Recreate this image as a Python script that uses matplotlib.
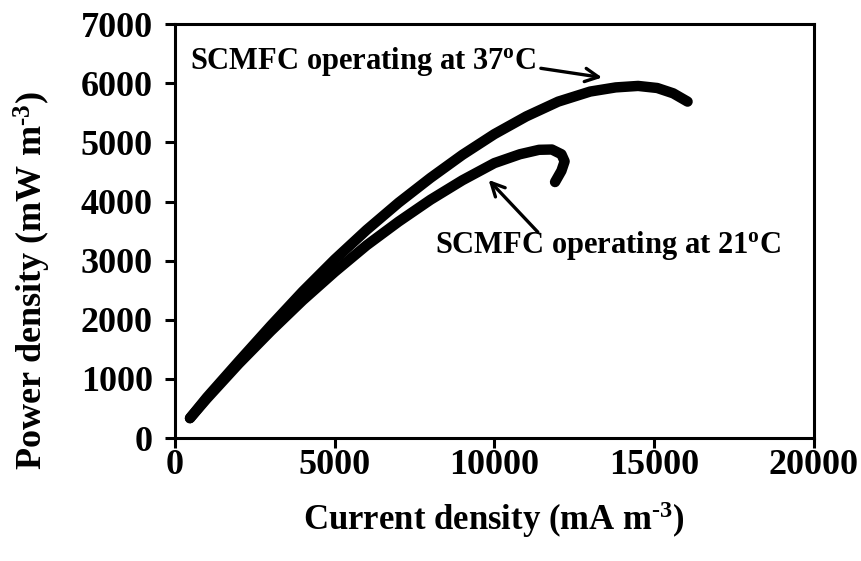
import matplotlib
matplotlib.use("Agg")
import matplotlib.pyplot as plt

plt.rcParams['font.family'] = ['Liberation Serif', 'DejaVu Serif']
plt.rcParams['font.weight'] = 'bold'
plt.rcParams['mathtext.fontset'] = 'custom'
plt.rcParams['mathtext.rm'] = 'Liberation Serif:bold'
plt.rcParams['mathtext.it'] = 'Liberation Serif:bold'
plt.rcParams['mathtext.bf'] = 'Liberation Serif:bold'
plt.rcParams['mathtext.default'] = 'rm'

# Power curves, current density (mA m-3) vs power density (mW m-3)
current_37 = [470, 1000, 2000, 3000, 4000, 5000, 6000, 7000, 8000, 9000, 10000,
              11000, 12000, 13000, 13800, 14500, 15100, 15600, 16050]
power_37 = [338, 690, 1300, 1900, 2480, 3020, 3520, 3980, 4400, 4790, 5140,
            5440, 5690, 5860, 5930, 5955, 5920, 5830, 5690]

current_21 = [470, 1000, 2000, 3000, 4000, 5000, 6000, 7000, 8000, 9000, 10000,
              10800, 11400, 11800, 12100, 12200, 12100, 11900]
power_21 = [338, 670, 1260, 1810, 2330, 2810, 3260, 3660, 4030, 4360, 4650,
            4800, 4875, 4880, 4800, 4680, 4520, 4330]

x_ticks = [0, 5000, 10000, 15000, 20000]
y_ticks = [0, 1000, 2000, 3000, 4000, 5000, 6000, 7000]

fig = plt.figure(figsize=(8.62, 5.61), dpi=100)
ax = fig.add_axes([0.203, 0.219, 0.741, 0.738])

for cur, pw in ((current_37, power_37), (current_21, power_21)):
    ax.plot(cur, pw, color='black', lw=7.5, solid_capstyle='round',
            solid_joinstyle='round')

ax.set_xlim(0, 20000)
ax.set_ylim(0, 7000)
ax.set_xticks(x_ticks)
ax.set_yticks(y_ticks)
ax.tick_params(direction='out', length=7, width=2.2, labelsize=26)
ax.tick_params(axis='x', pad=1)
ax.tick_params(axis='y', pad=9)
for sp in ax.spines.values():
    sp.set_linewidth(2.2)

ax.set_xlabel('Current density (mA m$^{\\text{-3}}$)', fontsize=25,
              fontweight='bold', labelpad=12)
ax.set_ylabel('Power density (mW m$^{\\text{-3}}$)', fontsize=26,
              fontweight='bold', labelpad=20)
# label sits a bit below the axes centre
ax.yaxis.label.set_y(0.38)

ax.text(470, 6360, 'SCMFC operating at 37$^{o}$C', fontsize=22, fontweight='bold',
        va='center', ha='left')
ax.text(8140, 3250, 'SCMFC operating at 21$^{o}$C', fontsize=22, fontweight='bold',
        va='center', ha='left')

arrow = dict(arrowstyle='->', lw=2.4, color='black', mutation_scale=24)
ax.annotate('', xy=(13460, 6090), xytext=(11370, 6260), arrowprops=arrow)
ax.annotate('', xy=(9760, 4400), xytext=(11420, 3450), arrowprops=arrow)

fig.savefig('out.png', dpi=100)
